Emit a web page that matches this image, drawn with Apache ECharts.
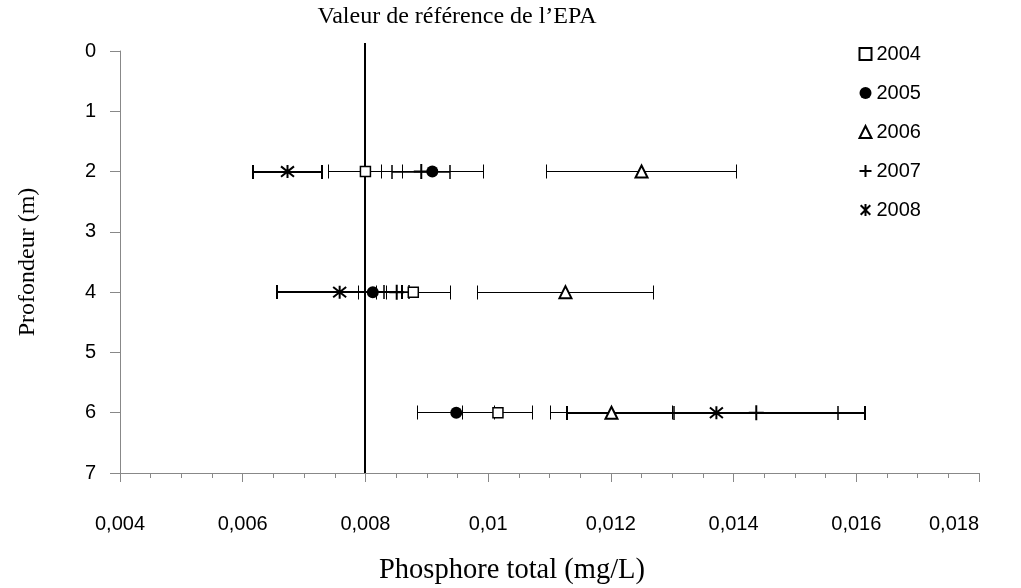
<!DOCTYPE html>
<html>
<head>
<meta charset="utf-8">
<script src="https://cdn.jsdelivr.net/npm/echarts@6/dist/echarts.min.js"></script>
<style>html,body{margin:0;padding:0;background:#fff}#c{width:1021px;height:588px}</style>
</head>
<body>
<div id="c"></div>
<script>
// ---- data ----
const years = ['2004', '2005', '2006', '2007', '2008'];
const depths = [2, 4, 6];
const p2004 = [0.00800, 0.00878, 0.01016];
const e2004 = [0.00060, 0.00060, 0.00057];
const p2005 = [0.00909, 0.00812, 0.00948];
const e2005 = [0.00083, 0.00023, 0.00063];
const p2006 = [0.01250, 0.01126, 0.01201];
const e2006 = [0.00155, 0.00143, 0.00100];
const p2007 = [0.00891, 0.00851, 0.01437];
const e2007 = [0.00047, 0.00020, 0.00134];
const p2008 = [0.00673, 0.00758, 0.01372];
const e2008 = [0.00057, 0.00102, 0.00243];
const epaValue = 0.008;
const xTicks = [0.004, 0.006, 0.008, 0.01, 0.012, 0.014, 0.016, 0.018];

const SER = [
  {name: '2004', p: p2004, e: e2004, symbol: 'rect', size: 10, color: '#fff', bw: 1.5, elw: 1},
  {name: '2005', p: p2005, e: e2005, symbol: 'circle', size: 12, color: '#000', bw: 0, elw: 1},
  {name: '2006', p: p2006, e: e2006, symbol: 'triangle', size: 12, color: '#fff', bw: 2, elw: 1},
  {name: '2007', p: p2007, e: e2007, symbol: 'path://M5,0L5,10M0,5L10,5', size: 15, color: 'none', bw: 2, elw: 1.5},
  {name: '2008', p: p2008, e: e2008, symbol: 'path://M1,1L9,9M9,1L1,9M5,0L5,10', size: 13, color: 'none', bw: 2, elw: 2}
];

function crisp(v, lw) { return (Math.round(lw) % 2 === 1) ? Math.floor(v) + 0.5 : Math.round(v); }

function errRender(lw, cap) {
  return function (params, api) {
    const lo = api.coord([api.value(0), api.value(2)]);
    const hi = api.coord([api.value(1), api.value(2)]);
    const y = crisp(lo[1], lw), x1 = crisp(lo[0], lw), x2 = crisp(hi[0], lw), h = cap / 2;
    const st = {stroke: '#000', lineWidth: lw, fill: null};
    return {type: 'group', children: [
      {type: 'line', shape: {x1: x1, y1: y, x2: x2, y2: y}, style: st},
      {type: 'line', shape: {x1: x1, y1: y - h, x2: x1, y2: y + h}, style: st},
      {type: 'line', shape: {x1: x2, y1: y - h, x2: x2, y2: y + h}, style: st}
    ]};
  };
}

const series = [];
SER.forEach(function (s) {
  series.push({
    name: 'err' + s.name, type: 'custom', renderItem: errRender(s.elw, 14),
    encode: {x: [0, 1], y: 2}, silent: true, z: 2,
    data: depths.map(function (d, i) { return [s.p[i] - s.e[i], s.p[i] + s.e[i], d]; })
  });
});
// EPA reference line
series.push({
  name: 'EPA', type: 'custom', clip: false, silent: true, z: 3,
  renderItem: function (params, api) {
    const top = api.coord([api.value(0), 0]);
    const bot = api.coord([api.value(0), 7]);
    const x = Math.round(top[0]);
    return {type: 'line', shape: {x1: x, y1: top[1] - 8, x2: x, y2: bot[1]}, style: {stroke: '#000', lineWidth: 2}};
  },
  encode: {x: 0}, data: [[epaValue]]
});
SER.forEach(function (s) {
  series.push({
    name: s.name, type: 'scatter', symbol: s.symbol, symbolSize: s.size, z: 5,
    itemStyle: {color: s.color, borderColor: '#000', borderWidth: s.bw, opacity: 1},
    data: depths.map(function (d, i) { return [s.p[i], d]; })
  });
});

const chart = echarts.init(document.getElementById('c'), null, {renderer: 'canvas'});
chart.setOption({
  animation: false,
  backgroundColor: '#fff',
  grid: {left: 120, right: 42, top: 51, bottom: 115, containLabel: false, outerBoundsMode: 'none'},
  title: {
    text: "Valeur de référence de l’EPA", left: 452, top: 0, textAlign: 'center',
    textStyle: {fontFamily: 'Liberation Serif', fontWeight: 'normal', fontSize: 24, color: '#000'}
  },
  legend: {
    data: years, orient: 'vertical', left: 852, top: 37, itemWidth: 12, itemHeight: 12, itemGap: 15,
    textStyle: {fontFamily: 'Liberation Sans', fontSize: 20, color: '#000', lineHeight: 24}
  },
  xAxis: {
    type: 'value', min: 0.004, max: 0.018, interval: 0.002,
    name: 'Phosphore total (mg/L)', nameLocation: 'middle', nameGap: 83,
    nameTextStyle: {fontFamily: 'Liberation Serif', fontSize: 28.5, color: '#000', padding: [0, 75, 0, 0]},
    axisLine: {show: true, onZero: false, lineStyle: {color: '#888', width: 1}},
    axisTick: {show: true, length: 9, lineStyle: {color: '#888'}},
    minorTick: {show: true, splitNumber: 4, length: 5, lineStyle: {color: '#888'}},
    splitLine: {show: false},
    axisLabel: {
      margin: 41, fontFamily: 'Liberation Sans', fontSize: 20, color: '#000', alignMaxLabel: 'right',
      formatter: function (v) {
        const idx = xTicks.findIndex(function (t) { return Math.abs(t - v) < 1e-9; });
        return idx >= 0 ? String(xTicks[idx]).replace('.', ',') : '';
      }
    }
  },
  yAxis: {
    type: 'value', inverse: true, min: 0, max: 7, interval: 1,
    name: 'Profondeur (m)', nameLocation: 'middle', nameGap: 80, nameRotate: 90,
    nameTextStyle: {fontFamily: 'Liberation Serif', fontSize: 24, color: '#000'},
    axisLine: {show: true, onZero: false, lineStyle: {color: '#888', width: 1}},
    axisTick: {show: true, length: 10, lineStyle: {color: '#888'}},
    splitLine: {show: false},
    axisLabel: {margin: 24, fontFamily: 'Liberation Sans', fontSize: 20, color: '#000'}
  },
  series: series
});
</script>
</body>
</html>
